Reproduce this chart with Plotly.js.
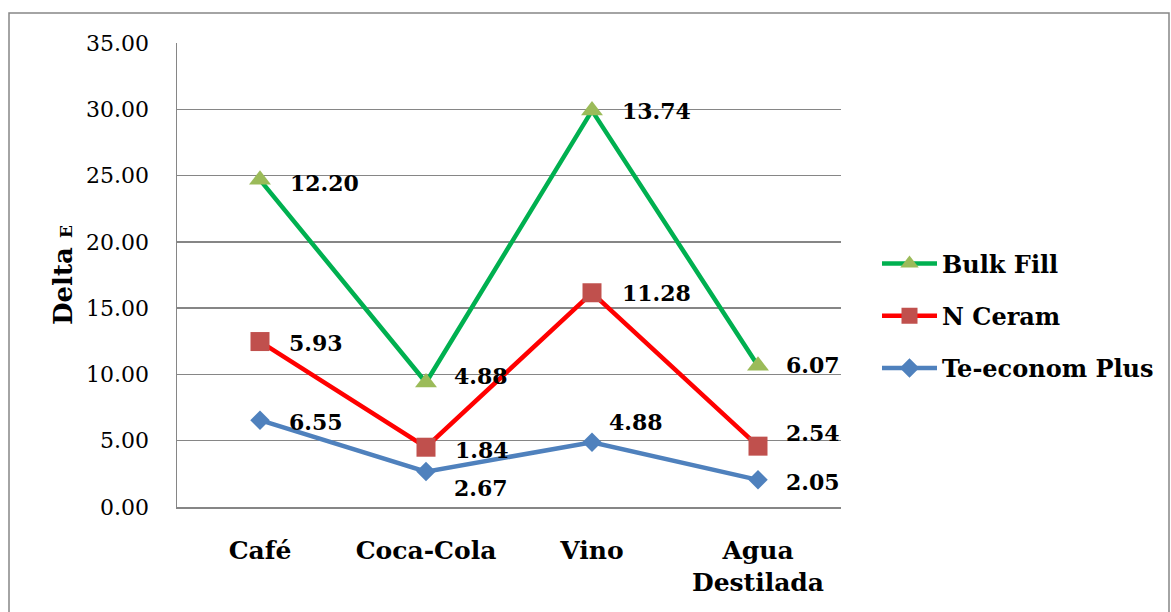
<!DOCTYPE html>
<html>
<head>
<meta charset="utf-8">
<script src="https://cdn.plot.ly/plotly-3.0.1.min.js"></script>
<style>
  html, body { margin: 0; padding: 0; background: #fff; }
  #chart { width: 1171px; height: 612px; }
</style>
</head>
<body>
<div id="chart"></div>
<script>
// ---- data ----
const categories = ["Café", "Coca-Cola", "Vino", "Agua<br>Destilada"];
const teEconomPlus = [6.55, 2.67, 4.88, 2.05];
const nCeram = [5.93, 1.84, 11.28, 2.54];
const bulkFill = [12.20, 4.88, 13.74, 6.07];
const yTicks = [0, 5, 10, 15, 20, 25, 30, 35];

// ---- styles ----
const FONT = "DejaVu Serif";
const series = [
  { name: "Te-econom Plus", values: teEconomPlus, line: "#4F81BD", marker: "#4F81BD", symbol: "diamond", size: 15, rank: 3,
    labelShift: [[27, -2], [26, -16], [15, 20], [26, -2]] },
  { name: "N Ceram", values: nCeram, line: "#FF0000", marker: "#C0504D", symbol: "square", size: 19, rank: 2,
    labelShift: [[27, -1], [27, -3], [28, 0], [26, 13]] },
  { name: "Bulk Fill", values: bulkFill, line: "#00B050", marker: "#9BBB59", symbol: "triangle-up", size: 19, rank: 1,
    labelShift: [[28, -3], [26, 7], [28, 0], [26, 1]] }
];

const xIdx = categories.map((c, i) => i);
const traces = series.map((s, k) => ({
  type: "scatter",
  mode: "lines+markers",
  name: s.name,
  x: xIdx,
  y: s.values,
  stackgroup: "one",
  fill: "none",
  legendgroup: "g" + k,
  legendrank: s.rank,
  line: { color: s.line, width: 4.5 },
  marker: { color: s.marker, symbol: s.symbol, size: s.size, line: { width: 0 } },
  hoverinfo: "name+y"
}));

// labels at stacked positions, showing each series' own value
const annotations = [];
const cum = categories.map(() => 0);
series.forEach(s => {
  s.values.forEach((v, i) => {
    cum[i] += v;
    annotations.push({
      x: i, y: cum[i], xref: "x", yref: "y",
      text: "<b>" + v.toFixed(2) + "</b>",
      showarrow: false, xanchor: "left", yanchor: "middle",
      xshift: s.labelShift[i][0], yshift: s.labelShift[i][1],
      font: { family: FONT, size: 22, color: "#000" }
    });
  });
});

// y-axis title
annotations.push({
  xref: "paper", yref: "paper", x: -0.1717, y: 0.5,
  text: "<b>Delta <span style='font-size:17px'>E</span></b>",
  textangle: -90, showarrow: false, xanchor: "center", yanchor: "middle",
  font: { family: FONT, size: 26, color: "#000" }
});

const L = 177, R = 1171 - 841, T = 43, B = 612 - 507;
const pw = 1171 - L - R, ph = 612 - T - B;

const layout = {
  width: 1171, height: 612,
  margin: { l: L, r: R, t: T, b: B, pad: 0 },
  paper_bgcolor: "#fff", plot_bgcolor: "#fff",
  showlegend: true,
  legend: {
    x: (877 - L) / pw, y: (507 - 316) / ph, xanchor: "left", yanchor: "middle",
    traceorder: "grouped", tracegroupgap: 18,
    font: { family: FONT, size: 24, color: "#000", weight: "bold" },
    itemwidth: 55, bgcolor: "rgba(0,0,0,0)"
  },
  xaxis: {
    range: [-0.5, 3.5], tickmode: "array", tickvals: xIdx, ticktext: categories.map(c => "<b>" + c + "</b>"),
    showgrid: false, zeroline: false, showline: true, linecolor: "#868686", linewidth: 1.5,
    ticks: "", ticklabelstandoff: 20,
    tickfont: { family: FONT, size: 25, color: "#000" },
    fixedrange: true
  },
  yaxis: {
    range: [0, 35], tickmode: "array", tickvals: yTicks, tickformat: ".2f",
    showgrid: true, gridcolor: "#868686", gridwidth: 1.5, zeroline: false,
    showline: true, linecolor: "#868686", linewidth: 1.5,
    ticks: "", ticklabelstandoff: 22,
    tickfont: { family: FONT, size: 22, color: "#000" },
    fixedrange: true
  },
  annotations: annotations,
  shapes: [{
    type: "rect", xref: "paper", yref: "paper", layer: "below",
    x0: (9 - L) / pw, x1: (1169 - L) / pw, y0: (507 - 640) / ph, y1: (507 - 13) / ph,
    line: { color: "#868686", width: 1.5 }, fillcolor: "rgba(0,0,0,0)"
  }]
};

Plotly.newPlot("chart", traces, layout, { displayModeBar: false, staticPlot: true });
</script>
</body>
</html>
